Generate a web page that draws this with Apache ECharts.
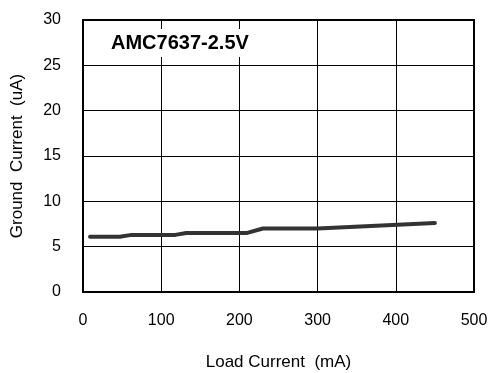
<!DOCTYPE html>
<html>
<head>
<meta charset="utf-8">
<script src="https://cdn.jsdelivr.net/npm/echarts@6/dist/echarts.min.js"></script>
<style>html,body{margin:0;padding:0;background:#fff}#c{width:491px;height:373px}</style>
</head>
<body>
<div id="c"></div>
<script>
const chartTitle = "AMC7637-2.5V";
const xName = "Load Current  (mA)";
const yName = "Ground  Current  (uA)";
const loadCurrent = [9, 47, 62, 118, 132, 209, 230, 300, 450];
const groundCurrent = [6.1, 6.1, 6.3, 6.3, 6.5, 6.5, 7.0, 7.0, 7.6];

const chart = echarts.init(document.getElementById('c'), null, {renderer: 'canvas'});
const fontFamily = 'Liberation Sans, Arial, sans-serif';
chart.setOption({
  animation: false,
  backgroundColor: '#fff',
  grid: {left: 83, right: 17, top: 20, bottom: 81, show: true, borderColor: '#000', borderWidth: 2,
         containLabel: false, outerBoundsMode: 'none'},
  xAxis: {
    type: 'value', min: 0, max: 500, interval: 100,
    name: xName, nameLocation: 'middle', nameGap: 62,
    nameTextStyle: {fontFamily, fontSize: 17, color: '#000'},
    axisLine: {show: true, onZero: false, lineStyle: {color: '#000', width: 2}},
    axisTick: {show: false},
    axisLabel: {fontFamily, fontSize: 16, color: '#000', margin: 21},
    splitLine: {show: true, lineStyle: {color: '#000', width: 1}}
  },
  yAxis: {
    type: 'value', min: 0, max: 30, interval: 5,
    name: yName, nameLocation: 'middle', nameGap: 57,
    nameTextStyle: {fontFamily, fontSize: 17, color: '#000'},
    axisLine: {show: true, onZero: false, lineStyle: {color: '#000', width: 2}},
    axisTick: {show: false},
    axisLabel: {fontFamily, fontSize: 16, color: '#000', margin: 22},
    splitLine: {show: true, lineStyle: {color: '#000', width: 1}}
  },
  graphic: [{
    type: 'text', left: 107, top: 29, z: 100,
    style: {text: chartTitle, font: 'bold 20px ' + fontFamily, fill: '#000', backgroundColor: '#fff', padding: [4, 4, 4, 4]}
  }],
  series: [{
    type: 'line',
    data: loadCurrent.map((x, i) => [x, groundCurrent[i]]),
    showSymbol: false, symbol: 'none',
    lineStyle: {color: '#333', width: 4, cap: 'round', join: 'round'},
    z: 5
  }]
});
</script>
</body>
</html>
